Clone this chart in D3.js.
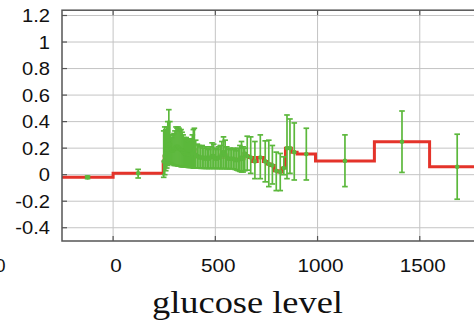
<!DOCTYPE html>
<html>
<head>
<meta charset="utf-8">
<script src="https://cdn.jsdelivr.net/npm/d3@7"></script>
<style>
  body { margin: 0; background: #fff; }
  svg { display: block; }
</style>
</head>
<body>
<div id="canvas"></div>
<script>
// bin edges (glucose level), one more than the bins
const binEdges = [
  -250, 0,
  245, 250, 255, 260, 265, 270, 275, 280, 285, 290,
  295, 300, 305, 310, 315, 320, 325, 330, 335, 340,
  345, 350, 355, 360, 365, 370, 375, 380, 385, 390, 395,
  400, 408, 416, 424, 432, 440, 448, 456, 464, 472,
  480, 488, 496, 504, 512, 520, 528, 536, 544, 552,
  560, 568, 576, 584, 592, 600, 608, 616, 624, 632, 640,
  648, 664, 682, 705, 735, 753, 770, 788, 808, 827,
  843, 858, 872, 900, 990, 1278, 1548, 1818
]
// mean value per bin
const binMean = [
  -0.02, 0.01,
  0.10, 0.14, 0.16, 0.19, 0.22, 0.26, 0.23, 0.19, 0.18, 0.18,
  0.19, 0.20, 0.21, 0.20, 0.21, 0.20, 0.19, 0.19, 0.18, 0.17,
  0.16, 0.16, 0.16, 0.15, 0.15, 0.15, 0.15, 0.15, 0.16, 0.18, 0.19,
  0.15, 0.14, 0.13, 0.13, 0.13, 0.12, 0.13, 0.12, 0.12, 0.13,
  0.14, 0.14, 0.12, 0.12, 0.13, 0.13, 0.15, 0.17, 0.15, 0.13,
  0.12, 0.12, 0.12, 0.12, 0.11, 0.11, 0.11, 0.12, 0.13, 0.12, 0.16,
  0.14, 0.13, 0.10, 0.13, 0.10, 0.08, 0.07, 0.03, 0.02, 0.05,
  0.20, 0.20, 0.17, 0.155, 0.104, 0.248, 0.059
]
// lower end of error bar
const binLow = [
  -0.03, -0.025,
  -0.02, 0.00, 0.03, 0.05, 0.07, 0.08, 0.09, 0.09, 0.08, 0.08,
  0.07, 0.07, 0.07, 0.07, 0.065, 0.065, 0.065, 0.06, 0.06, 0.06,
  0.06, 0.06, 0.06, 0.06, 0.055, 0.055, 0.055, 0.055, 0.055, 0.05, 0.05,
  0.05, 0.05, 0.05, 0.048, 0.048, 0.048, 0.047, 0.047, 0.047, 0.047,
  0.047, 0.047, 0.047, 0.047, 0.046, 0.046, 0.046, 0.046, 0.046, 0.045,
  0.045, 0.045, 0.045, 0.044, 0.04, 0.035, 0.03, 0.025, 0.02, 0.02, 0.03,
  0.034, 0.01, -0.03, -0.03, -0.054, -0.09, -0.07, -0.12, -0.12, 0.0,
  -0.03, 0.01, -0.04, -0.04, -0.09, 0.017, -0.185
]
// upper end of error bar
const binHigh = [
  -0.01, 0.04,
  0.33, 0.36, 0.34, 0.36, 0.40, 0.49, 0.40, 0.30, 0.28, 0.30,
  0.31, 0.33, 0.36, 0.35, 0.36, 0.35, 0.33, 0.34, 0.32, 0.30,
  0.28, 0.27, 0.28, 0.26, 0.27, 0.25, 0.26, 0.27, 0.30, 0.34, 0.35,
  0.26, 0.23, 0.22, 0.21, 0.22, 0.20, 0.21, 0.20, 0.19, 0.21,
  0.24, 0.23, 0.20, 0.19, 0.21, 0.22, 0.25, 0.285, 0.26, 0.21,
  0.19, 0.20, 0.19, 0.20, 0.19, 0.18, 0.20, 0.22, 0.25, 0.21, 0.20,
  0.29, 0.285, 0.25, 0.30, 0.255, 0.26, 0.22, 0.17, 0.16, 0.135,
  0.45, 0.42, 0.39, 0.35, 0.30, 0.48, 0.305
]
const xTicks = [0, 500, 1000, 1500, 2000]
const xLabels = [0, 500, 1000, 1500]
const yTicks = [-0.4, -0.2, 0, 0.2, 0.4, 0.6, 0.8, 1, 1.2]

const width = 474
const height = 322
const red = '#e4332a'
const green = '#5cb83c'

const svg = d3.select('#canvas').append('svg')
  .attr('width', width)
  .attr('height', height)

const x = d3.scaleLinear().domain([-250, 2000]).range([62, 522])
const y = d3.scaleLinear().domain([-0.5, 1.2]).range([241, 15.5])
const yTop = y(1.24)
const yBot = y(-0.5)
const xL = x(-250)
const xR = x(2000)

// grid
svg.append('g').selectAll('line').data(xTicks).join('line')
  .attr('x1', (d) => x(d)).attr('x2', (d) => x(d))
  .attr('y1', yTop).attr('y2', yBot)
  .attr('stroke', '#c4c4c4').attr('stroke-width', 1)
svg.append('g').selectAll('line').data(yTicks).join('line')
  .attr('x1', xL).attr('x2', xR)
  .attr('y1', (d) => y(d)).attr('y2', (d) => y(d))
  .attr('stroke', '#c4c4c4').attr('stroke-width', 1)

// red step line
const stepPts = binMean.map((m, i) => [binEdges[i], m])
stepPts.push([binEdges[binEdges.length - 1], binMean[binMean.length - 1]])
svg.append('path')
  .datum(stepPts)
  .attr('d', d3.line().x((d) => x(d[0])).y((d) => y(d[1])).curve(d3.curveStepAfter))
  .attr('fill', 'none')
  .attr('stroke', red)
  .attr('stroke-width', 3)

// green error bars
const bins = binMean.map((m, i) => ({
  c: (binEdges[i] + binEdges[i + 1]) / 2,
  m: m,
  lo: binLow[i],
  hi: binHigh[i],
}))
const eb = svg.append('g').attr('stroke', green).attr('stroke-width', 1.7)
bins.forEach((d) => {
  const cx = x(d.c)
  eb.append('line').attr('x1', cx).attr('x2', cx).attr('y1', y(d.lo)).attr('y2', y(d.hi))
  eb.append('line').attr('x1', cx - 2.8).attr('x2', cx + 2.8).attr('y1', y(d.lo)).attr('y2', y(d.lo))
  eb.append('line').attr('x1', cx - 2.8).attr('x2', cx + 2.8).attr('y1', y(d.hi)).attr('y2', y(d.hi))
})
svg.append('g').selectAll('circle').data(bins).join('circle')
  .attr('cx', (d) => x(d.c))
  .attr('cy', (d) => y(d.m))
  .attr('r', 2.3)
  .attr('fill', green)

// frame + inward ticks
svg.append('rect')
  .attr('x', xL).attr('y', yTop)
  .attr('width', xR - xL).attr('height', yBot - yTop)
  .attr('fill', 'none').attr('stroke', '#555').attr('stroke-width', 1.5)
const tk = svg.append('g').attr('stroke', '#555').attr('stroke-width', 1.2)
xTicks.forEach((d) => {
  tk.append('line').attr('x1', x(d)).attr('x2', x(d)).attr('y1', yBot).attr('y2', yBot - 5)
  tk.append('line').attr('x1', x(d)).attr('x2', x(d)).attr('y1', yTop).attr('y2', yTop + 5)
})
yTicks.forEach((d) => {
  tk.append('line').attr('x1', xL).attr('x2', xL + 5).attr('y1', y(d)).attr('y2', y(d))
})

// tick labels (source picture is stretched a bit horizontally)
const sx = 1.12
svg.append('g').attr('transform', `scale(${sx},1)`)
  .selectAll('text').data(yTicks).join('text')
  .attr('x', 50 / sx)
  .attr('y', (d) => y(d) + 6.5)
  .attr('text-anchor', 'end')
  .style('font-family', '"Liberation Sans", Arial, sans-serif')
  .style('font-size', '18px')
  .attr('fill', '#111')
  .text((d) => d)

svg.append('g').attr('transform', `scale(${sx},1)`)
  .selectAll('text').data(xLabels).join('text')
  .attr('x', (d) => (x(d) + 3) / sx)
  .attr('y', 272)
  .attr('text-anchor', 'middle')
  .style('font-family', '"Liberation Sans", Arial, sans-serif')
  .style('font-size', '18.5px')
  .attr('fill', '#111')
  .text((d) => d)

// piece of the neighbouring panel's label at the left edge
svg.append('text')
  .attr('x', 5.5).attr('y', 272)
  .attr('text-anchor', 'end')
  .style('font-family', '"Liberation Sans", Arial, sans-serif')
  .style('font-size', '18.5px')
  .attr('fill', '#111')
  .text('2000')

// axis title
svg.append('text')
  .attr('x', 152).attr('y', 313)
  .attr('textLength', 191)
  .attr('lengthAdjust', 'spacingAndGlyphs')
  .style('font-family', '"Liberation Serif", "DejaVu Serif", serif')
  .style('font-size', '31px')
  .attr('fill', '#111')
  .text('glucose level')
</script>
</body>
</html>
